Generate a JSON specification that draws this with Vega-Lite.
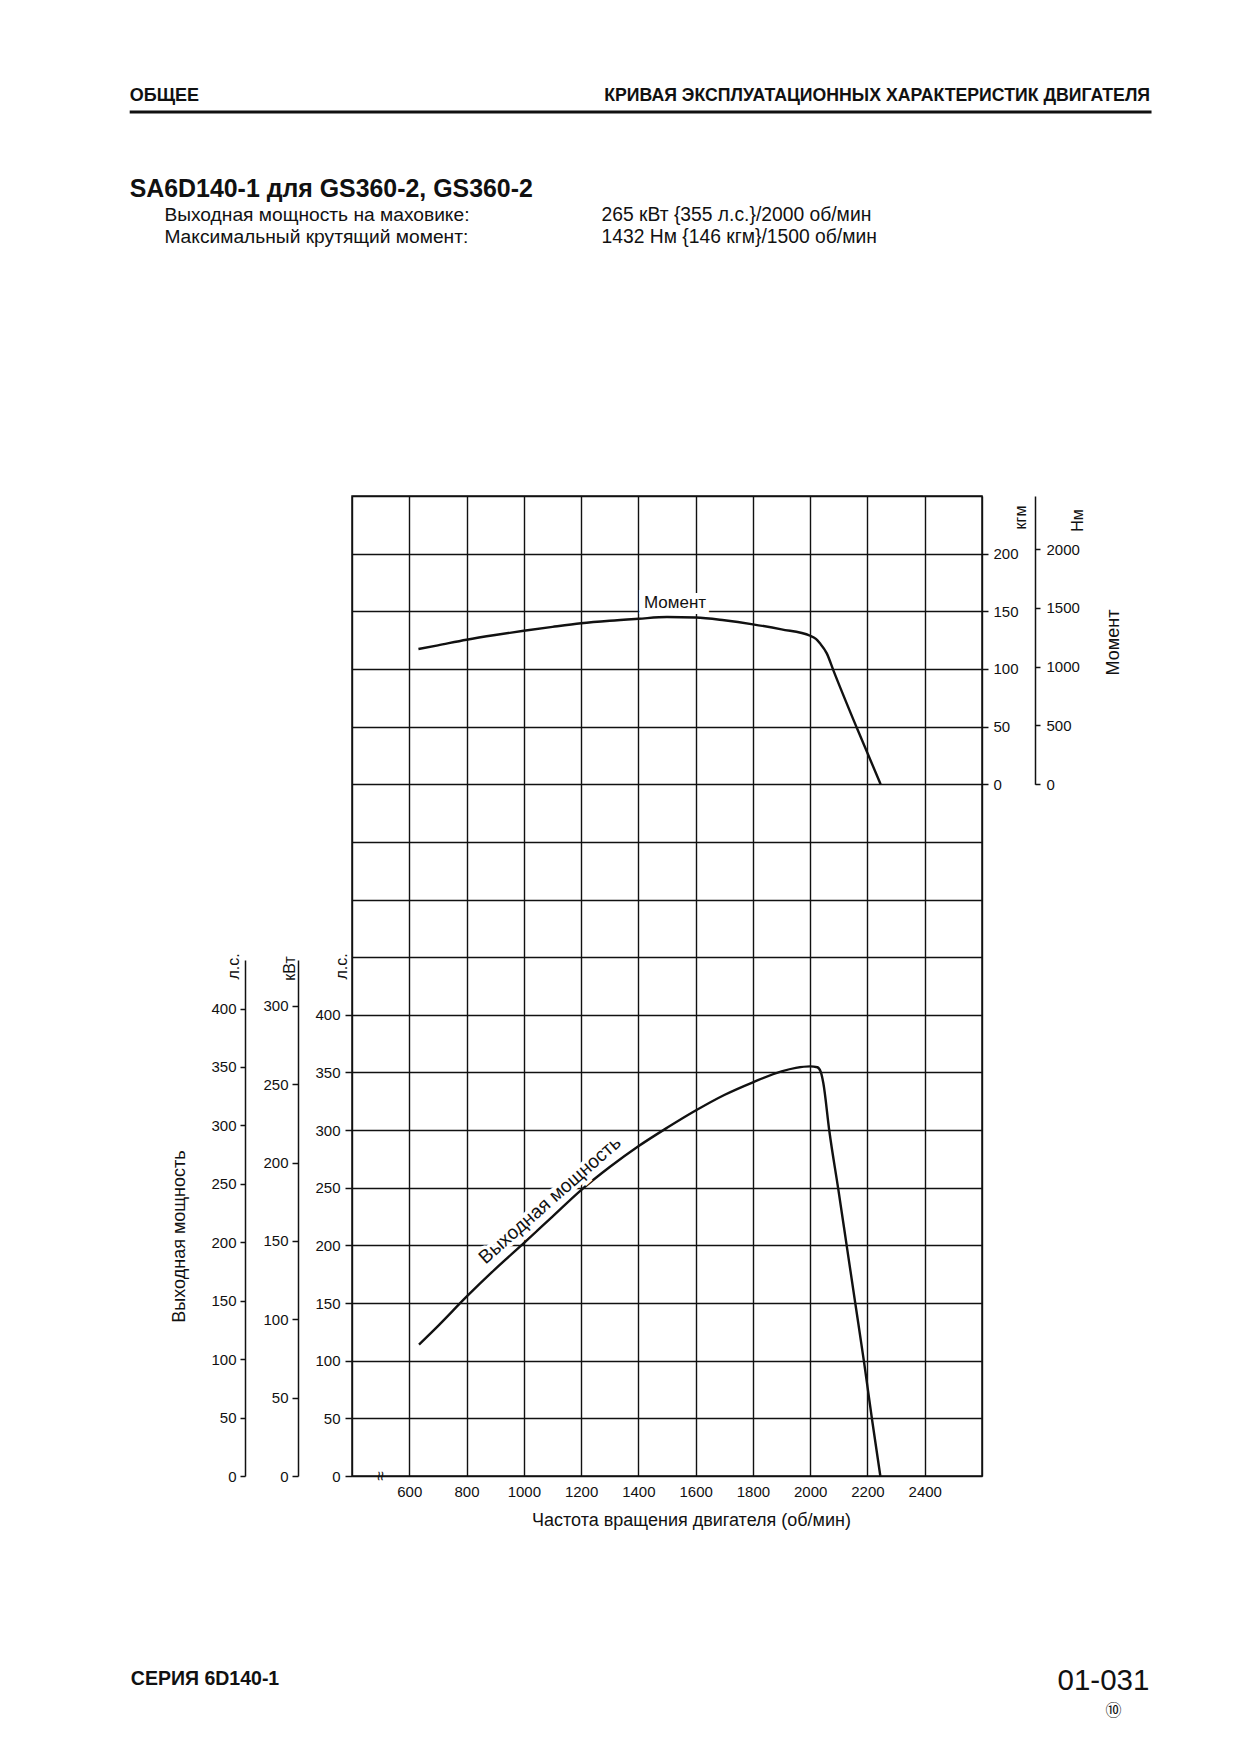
{
  "$schema": "https://vega.github.io/schema/vega-lite/v6.json",
  "autosize": {"type": "none"},
  "width": 630,
  "height": 980,
  "padding": {"left": 352, "top": 496, "right": 258, "bottom": 278},
  "background": "white",
  "config": {
    "view": {"stroke": "#111", "strokeWidth": 1.5},
    "axis": {
      "labelFont": "Liberation Sans", "labelFontSize": 15, "labelColor": "#111",
      "titleFont": "Liberation Sans", "titleFontSize": 18, "titleFontWeight": "normal", "titleColor": "#111",
      "domainColor": "#111", "domainWidth": 1.5, "tickColor": "#111", "tickWidth": 1.5,
      "gridColor": "#111", "gridOpacity": 1, "gridWidth": 1.4
    },
    "text": {"font": "Liberation Sans", "color": "#111"}
  },
  "datasets": {
    "power": [
      {"rpm": 634, "ps": 114}, {"rpm": 700, "ps": 130}, {"rpm": 800, "ps": 155.5}, {"rpm": 900, "ps": 179.5},
      {"rpm": 1000, "ps": 202}, {"rpm": 1100, "ps": 225}, {"rpm": 1200, "ps": 248}, {"rpm": 1300, "ps": 268},
      {"rpm": 1400, "ps": 286}, {"rpm": 1500, "ps": 302}, {"rpm": 1600, "ps": 317}, {"rpm": 1700, "ps": 330.5},
      {"rpm": 1800, "ps": 341.5}, {"rpm": 1900, "ps": 351}, {"rpm": 1950, "ps": 354}, {"rpm": 2000, "ps": 355.3},
      {"rpm": 2025, "ps": 354.5}, {"rpm": 2037, "ps": 350.5}, {"rpm": 2046, "ps": 340.6}, {"rpm": 2067, "ps": 299},
      {"rpm": 2098, "ps": 249}, {"rpm": 2128, "ps": 199}, {"rpm": 2158, "ps": 149}, {"rpm": 2188, "ps": 99},
      {"rpm": 2216, "ps": 49}, {"rpm": 2245, "ps": 0}
    ],
    "torque": [
      {"rpm": 632, "kgm": 117.3}, {"rpm": 700, "kgm": 120.5}, {"rpm": 800, "kgm": 125.3}, {"rpm": 900, "kgm": 129.4},
      {"rpm": 1000, "kgm": 133.1}, {"rpm": 1100, "kgm": 136.5}, {"rpm": 1200, "kgm": 139.6}, {"rpm": 1300, "kgm": 141.8},
      {"rpm": 1400, "kgm": 143.5}, {"rpm": 1500, "kgm": 145}, {"rpm": 1600, "kgm": 144.6}, {"rpm": 1700, "kgm": 142.2},
      {"rpm": 1800, "kgm": 138.7}, {"rpm": 1900, "kgm": 134.3}, {"rpm": 2000, "kgm": 128.8}, {"rpm": 2020, "kgm": 126},
      {"rpm": 2034, "kgm": 122.2}, {"rpm": 2058, "kgm": 113.5}, {"rpm": 2081, "kgm": 98.8}, {"rpm": 2162, "kgm": 49.4},
      {"rpm": 2246, "kgm": 0}
    ]
  },
  "layer": [
    {
      "layer": [
        {
          "data": {"name": "power"},
          "mark": {"type": "line", "interpolate": "monotone", "color": "#111", "strokeWidth": 2.4},
          "encoding": {
            "x": {
              "field": "rpm", "type": "quantitative",
              "scale": {"domain": [400, 2600], "nice": false, "zero": false},
              "axis": {
                "orient": "bottom",
                "values": [400, 600, 800, 1000, 1200, 1400, 1600, 1800, 2000, 2200, 2400, 2600],
                "format": "d",
                "labelExpr": "datum.value == 400 || datum.value == 2600 ? '' : datum.label",
                "grid": true, "ticks": false, "domain": false,
                "labelPadding": 8, "labelBaseline": "top",
                "title": "Частота вращения двигателя (об/мин)",
                "titleX": 339, "titleY": 44, "titleAlign": "center", "titleBaseline": "middle"
              }
            },
            "y": {
              "field": "ps", "type": "quantitative",
              "scale": {"domain": [0, 850], "nice": false},
              "axis": {
                "orient": "left",
                "values": [0, 50, 100, 150, 200, 250, 300, 350, 400, 450, 500, 550, 600, 650, 700, 750, 800, 850],
                "labelExpr": "datum.value <= 400 ? datum.label : ''",
                "tickSize": {"condition": {"test": "datum.value <= 400", "value": 7}, "value": 0},
                "grid": true, "domain": false, "labelPadding": 5,
                "title": "л.с.", "titleFontSize": 16, "titleAngle": 270, "titleX": -11, "titleY": 470,
                "titleAlign": "center", "titleBaseline": "middle"
              }
            }
          }
        },
        {
          "data": {"values": [{"t": "Выходная мощность"}]},
          "mark": {"type": "text", "fontSize": 19, "angle": -41.4, "align": "center", "baseline": "middle", "fill": "white", "stroke": "white", "strokeWidth": 7},
          "encoding": {"x": {"datum": 1091, "type": "quantitative"}, "y": {"datum": 239.4, "type": "quantitative"}, "text": {"field": "t"}}
        },
        {
          "data": {"values": [{"t": "Выходная мощность"}]},
          "mark": {"type": "text", "fontSize": 19, "angle": -41.4, "align": "center", "baseline": "middle"},
          "encoding": {"x": {"datum": 1091, "type": "quantitative"}, "y": {"datum": 239.4, "type": "quantitative"}, "text": {"field": "t"}}
        },
        {
          "data": {"values": [{"t": "≈"}]},
          "mark": {"type": "text", "fontSize": 17, "angle": 90, "align": "center", "baseline": "middle"},
          "encoding": {"x": {"datum": 498, "type": "quantitative"}, "y": {"datum": 0, "type": "quantitative"}, "text": {"field": "t"}}
        },
        {
          "data": {"values": [{"t": "ОБЩЕЕ"}]},
          "mark": {"type": "text", "font": "'Liberation Sans Narrow', 'Liberation Sans', sans-serif", "fontWeight": "bold", "fontSize": 18, "align": "left", "baseline": "middle"},
          "encoding": {"x": {"datum": -376.3, "type": "quantitative"}, "y": {"datum": 1196.9, "type": "quantitative"}, "text": {"field": "t"}}
        },
        {
          "data": {"values": [{"t": "КРИВАЯ ЭКСПЛУАТАЦИОННЫХ ХАРАКТЕРИСТИК ДВИГАТЕЛЯ"}]},
          "mark": {"type": "text", "font": "'Liberation Sans Narrow', 'Liberation Sans', sans-serif", "fontWeight": "bold", "fontSize": 17.7, "align": "right", "baseline": "middle"},
          "encoding": {"x": {"datum": 3186.7, "type": "quantitative"}, "y": {"datum": 1196.9, "type": "quantitative"}, "text": {"field": "t"}}
        },
        {
          "data": {"values": [{}]},
          "mark": {"type": "rule", "color": "#111", "strokeWidth": 3},
          "encoding": {"x": {"datum": -376.3, "type": "quantitative"}, "x2": {"datum": 3192}, "y": {"datum": 1183.1, "type": "quantitative"}}
        },
        {
          "data": {"values": [{"t": "SA6D140-1 для GS360-2, GS360-2"}]},
          "mark": {"type": "text", "fontWeight": "bold", "fontSize": 24.9, "align": "left", "baseline": "middle"},
          "encoding": {"x": {"datum": -376.3, "type": "quantitative"}, "y": {"datum": 1115.4, "type": "quantitative"}, "text": {"field": "t"}}
        },
        {
          "data": {"values": [{"t": "Выходная мощность на маховике:"}]},
          "mark": {"type": "text", "fontSize": 19.2, "align": "left", "baseline": "middle"},
          "encoding": {"x": {"datum": -255.1, "type": "quantitative"}, "y": {"datum": 1094, "type": "quantitative"}, "text": {"field": "t"}}
        },
        {
          "data": {"values": [{"t": "Максимальный крутящий момент:"}]},
          "mark": {"type": "text", "fontSize": 19.2, "align": "left", "baseline": "middle"},
          "encoding": {"x": {"datum": -255.1, "type": "quantitative"}, "y": {"datum": 1074.6, "type": "quantitative"}, "text": {"field": "t"}}
        },
        {
          "data": {"values": [{"t": "265 кВт {355 л.с.}/2000 об/мин"}]},
          "mark": {"type": "text", "fontSize": 19.3, "align": "left", "baseline": "middle"},
          "encoding": {"x": {"datum": 1271.3, "type": "quantitative"}, "y": {"datum": 1094, "type": "quantitative"}, "text": {"field": "t"}}
        },
        {
          "data": {"values": [{"t": "1432 Нм {146 кгм}/1500 об/мин"}]},
          "mark": {"type": "text", "fontSize": 19.3, "align": "left", "baseline": "middle"},
          "encoding": {"x": {"datum": 1271.3, "type": "quantitative"}, "y": {"datum": 1074.6, "type": "quantitative"}, "text": {"field": "t"}}
        },
        {
          "data": {"values": [{"t": "СЕРИЯ 6D140-1"}]},
          "mark": {"type": "text", "font": "'Liberation Sans Narrow', 'Liberation Sans', sans-serif", "fontWeight": "bold", "fontSize": 19.5, "align": "left", "baseline": "middle"},
          "encoding": {"x": {"datum": -372.2, "type": "quantitative"}, "y": {"datum": -176.5, "type": "quantitative"}, "text": {"field": "t"}}
        },
        {
          "data": {"values": [{"t": "01-031"}]},
          "mark": {"type": "text", "font": "'Liberation Sans Narrow', 'Liberation Sans', sans-serif", "fontSize": 29.5, "align": "right", "baseline": "middle"},
          "encoding": {"x": {"datum": 3184.6, "type": "quantitative"}, "y": {"datum": -177.4, "type": "quantitative"}, "text": {"field": "t"}}
        },
        {
          "data": {"values": [{"t": "⑩"}]},
          "mark": {"type": "text", "font": "'Noto Sans CJK JP', 'DejaVu Sans', sans-serif", "fontSize": 16, "align": "center", "baseline": "middle"},
          "encoding": {"x": {"datum": 3059.5, "type": "quantitative"}, "y": {"datum": -203.6, "type": "quantitative"}, "text": {"field": "t"}}
        }
      ]
    },
    {
      "data": {"values": [{}]},
      "mark": {"type": "rule", "opacity": 0},
      "encoding": {
        "y": {
          "datum": 0, "type": "quantitative",
          "scale": {"domain": [0, 441.5], "range": [980, 464], "nice": false},
          "axis": {
            "orient": "left", "offset": 107, "values": [0, 50, 100, 150, 200, 250, 300, 350, 400],
            "grid": false, "domain": true, "tickSize": 5, "labelPadding": 4,
            "title": "л.с.", "titleFontSize": 16, "titleAngle": 270, "titleX": -12, "titleY": 470,
            "titleAlign": "center", "titleBaseline": "middle"
          }
        }
      }
    },
    {
      "data": {"values": [{}]},
      "mark": {"type": "rule", "opacity": 0},
      "encoding": {
        "y": {
          "datum": 0, "type": "quantitative",
          "scale": {"domain": [0, 329.2], "range": [980, 464], "nice": false},
          "axis": {
            "orient": "left", "offset": 54, "values": [0, 50, 100, 150, 200, 250, 300],
            "grid": false, "domain": true, "tickSize": 6, "labelPadding": 4,
            "title": "кВт", "titleFontSize": 16, "titleAngle": 270, "titleX": -9, "titleY": 472,
            "titleAlign": "center", "titleBaseline": "middle"
          }
        }
      }
    },
    {
      "data": {"values": [{}]},
      "mark": {"type": "rule", "opacity": 0},
      "encoding": {
        "y": {
          "datum": 0, "type": "quantitative",
          "scale": {"domain": [0, 850], "nice": false},
          "axis": {
            "orient": "left", "offset": 0, "values": [], "grid": false, "domain": false, "ticks": false, "labels": false,
            "title": "Выходная мощность", "titleAngle": 270, "titleX": -173, "titleY": 740,
            "titleAlign": "center", "titleBaseline": "middle"
          }
        }
      }
    },
    {
      "layer": [
        {
          "data": {"name": "torque"},
          "mark": {"type": "line", "interpolate": "monotone", "color": "#111", "strokeWidth": 2.4},
          "encoding": {
            "x": {"field": "rpm", "type": "quantitative"},
            "y": {
              "field": "kgm", "type": "quantitative",
              "scale": {"domain": [0, 250], "range": [288.235, 0], "nice": false},
              "axis": {
                "orient": "right", "values": [0, 50, 100, 150, 200], "grid": false, "domain": false,
                "tickSize": 6, "labelPadding": 5,
                "title": "кгм", "titleFontSize": 16, "titleAngle": 270, "titleX": 38, "titleY": 21,
                "titleAlign": "center", "titleBaseline": "middle"
              }
            }
          }
        },
        {
          "data": {"values": [{"t": "Момент"}]},
          "mark": {"type": "text", "fontSize": 17, "align": "center", "baseline": "middle", "fill": "white", "stroke": "white", "strokeWidth": 12},
          "encoding": {"x": {"datum": 1528, "type": "quantitative"}, "y": {"datum": 157.2, "type": "quantitative"}, "text": {"field": "t"}}
        },
        {
          "data": {"values": [{"t": "Момент"}]},
          "mark": {"type": "text", "fontSize": 17, "align": "center", "baseline": "middle"},
          "encoding": {"x": {"datum": 1528, "type": "quantitative"}, "y": {"datum": 157.2, "type": "quantitative"}, "text": {"field": "t"}}
        }
      ]
    },
    {
      "data": {"values": [{}]},
      "mark": {"type": "rule", "opacity": 0},
      "encoding": {
        "y": {
          "datum": 0, "type": "quantitative",
          "scale": {"domain": [0, 2451.66], "range": [288.235, 0], "nice": false},
          "axis": {
            "orient": "right", "offset": 53, "values": [0, 500, 1000, 1500, 2000], "format": "d",
            "grid": false, "domain": true, "tickSize": 5, "labelPadding": 6,
            "title": "Нм", "titleFontSize": 16, "titleAngle": 270, "titleX": 42, "titleY": 24,
            "titleAlign": "center", "titleBaseline": "middle"
          }
        }
      }
    },
    {
      "data": {"values": [{}]},
      "mark": {"type": "rule", "opacity": 0},
      "encoding": {
        "y": {
          "datum": 0, "type": "quantitative",
          "scale": {"domain": [0, 850], "nice": false},
          "axis": {
            "orient": "right", "offset": 0, "values": [], "grid": false, "domain": false, "ticks": false, "labels": false,
            "title": "Момент", "titleAngle": 270, "titleX": 131, "titleY": 146,
            "titleAlign": "center", "titleBaseline": "middle"
          }
        }
      }
    }
  ],
  "resolve": {"scale": {"y": "independent"}, "axis": {"y": "independent"}}
}
